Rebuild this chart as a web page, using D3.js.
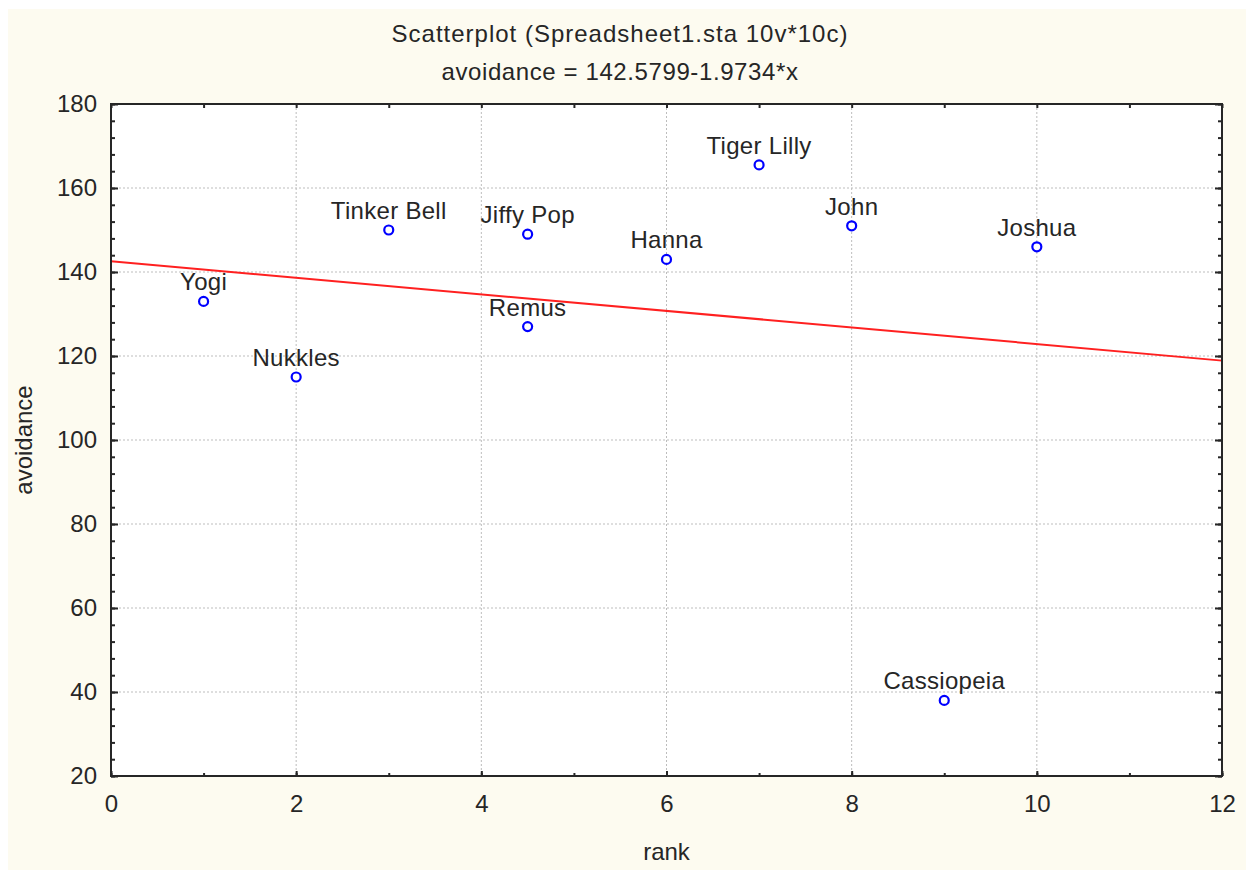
<!DOCTYPE html>
<html>
<head>
<meta charset="utf-8">
<script src="https://cdn.jsdelivr.net/npm/d3@7"></script>
<style>
	body { margin: 0; background: #fff; }
	text { font-family: "Liberation Sans", Arial, sans-serif; fill: #262626; }
</style>
</head>
<body>
<svg id="chart" width="1246" height="872"></svg>
<script>
var names = ["Yogi", "Nukkles", "Tinker Bell", "Jiffy Pop", "Remus", "Hanna", "Tiger Lilly", "John", "Cassiopeia", "Joshua"];
var rank = [1, 2, 3, 4.5, 4.5, 6, 7, 8, 9, 10];
var avoidance = [133, 115, 150, 149, 127, 143, 165.5, 151, 38, 146];
var fitCoef = [142.5799, -1.9734];
var xTicks = [0, 2, 4, 6, 8, 10, 12];
var yTicks = [20, 40, 60, 80, 100, 120, 140, 160, 180];

var width = 1246, height = 872;
var margin = {top: 104, right: 24, bottom: 96, left: 111};
var fontSize = "24px";

var svg = d3.select("#chart");

svg.append("rect")
	.attr("x", 8).attr("y", 9)
	.attr("width", width - 8).attr("height", height - 11)
	.style("fill", "#fdfbf0");

var x = d3.scaleLinear().domain([0, 12]).range([margin.left, width - margin.right]);
var y = d3.scaleLinear().domain([20, 180]).range([height - margin.bottom, margin.top]);

svg.append("rect")
	.attr("x", x(0)).attr("y", y(180))
	.attr("width", x(12) - x(0)).attr("height", y(20) - y(180))
	.style("fill", "#fff");

// grid
var grid = svg.append("g").style("stroke", "#bdbdbd").style("stroke-dasharray", "2,2");
grid.selectAll("line.gx").data(xTicks.slice(1, -1)).enter().append("line")
	.attr("x1", function(d) { return x(d); }).attr("x2", function(d) { return x(d); })
	.attr("y1", y(180)).attr("y2", y(20));
grid.selectAll("line.gy").data(yTicks.slice(1, -1)).enter().append("line")
	.attr("y1", function(d) { return y(d); }).attr("y2", function(d) { return y(d); })
	.attr("x1", x(0)).attr("x2", x(12));

// axes, ticks inward on all four sides
function styleAxis(g) {
	g.select(".domain").remove();
	g.selectAll(".tick line").style("stroke", "#262626").style("stroke-width", 2);
	g.selectAll("text").style("font-size", fontSize).style("fill", "#262626");
}
var xMinor = d3.range(0, 12.01, 1), yMinor = d3.range(20, 180.01, 4);

svg.append("g").attr("transform", "translate(0," + y(20) + ")")
	.call(d3.axisBottom(x).tickValues(xMinor).tickSize(-3).tickFormat(""))
	.call(styleAxis);
svg.append("g").attr("transform", "translate(0," + y(20) + ")")
	.call(d3.axisBottom(x).tickValues(xTicks).tickSize(-5).tickPadding(19).tickFormat(d3.format("d")))
	.call(styleAxis);
svg.append("g").attr("transform", "translate(0," + y(180) + ")")
	.call(d3.axisTop(x).tickValues(xMinor).tickSize(-4).tickFormat(""))
	.call(styleAxis);
svg.append("g").attr("transform", "translate(" + x(0) + ",0)")
	.call(d3.axisLeft(y).tickValues(yMinor).tickSize(-4).tickFormat(""))
	.call(styleAxis);
svg.append("g").attr("transform", "translate(" + x(0) + ",0)")
	.call(d3.axisLeft(y).tickValues(yTicks).tickSize(-7).tickPadding(14).tickFormat(d3.format("d")))
	.call(styleAxis);
svg.append("g").attr("transform", "translate(" + x(12) + ",0)")
	.call(d3.axisRight(y).tickValues(yMinor).tickSize(-4).tickFormat(""))
	.call(styleAxis);
svg.append("g").attr("transform", "translate(" + x(12) + ",0)")
	.call(d3.axisRight(y).tickValues(yTicks).tickSize(-7).tickFormat(""))
	.call(styleAxis);

// fit line
svg.append("line")
	.attr("x1", x(0)).attr("y1", y(fitCoef[0] + fitCoef[1] * 0))
	.attr("x2", x(12)).attr("y2", y(fitCoef[0] + fitCoef[1] * 12))
	.style("stroke", "#ff2020").style("stroke-width", 2);

// frame
svg.append("rect")
	.attr("x", x(0)).attr("y", y(180))
	.attr("width", x(12) - x(0)).attr("height", y(20) - y(180))
	.style("fill", "none").style("stroke", "#262626").style("stroke-width", 2);

// points and labels
var pts = svg.append("g");
names.forEach(function(n, i) {
	pts.append("circle")
		.attr("cx", x(rank[i])).attr("cy", y(avoidance[i])).attr("r", 4.5)
		.style("fill", "#fff").style("stroke", "#0000ff").style("stroke-width", 2.2);
	pts.append("text")
		.attr("x", x(rank[i])).attr("y", y(avoidance[i]) - 11)
		.attr("text-anchor", "middle")
		.style("font-size", fontSize).style("letter-spacing", "0.3px")
		.text(n);
});

// titles
svg.append("text").attr("x", 620).attr("y", 42).attr("text-anchor", "middle")
	.style("font-size", fontSize).style("letter-spacing", "1px")
	.text("Scatterplot (Spreadsheet1.sta 10v*10c)");
svg.append("text").attr("x", 620).attr("y", 80).attr("text-anchor", "middle")
	.style("font-size", fontSize).style("letter-spacing", "0.6px")
	.text("avoidance = 142.5799-1.9734*x");
svg.append("text").attr("x", x(6)).attr("y", 860).attr("text-anchor", "middle")
	.style("font-size", fontSize).text("rank");
svg.append("text").attr("transform", "translate(32," + y(100) + ") rotate(-90)")
	.attr("text-anchor", "middle")
	.style("font-size", fontSize).text("avoidance");
</script>
</body>
</html>
